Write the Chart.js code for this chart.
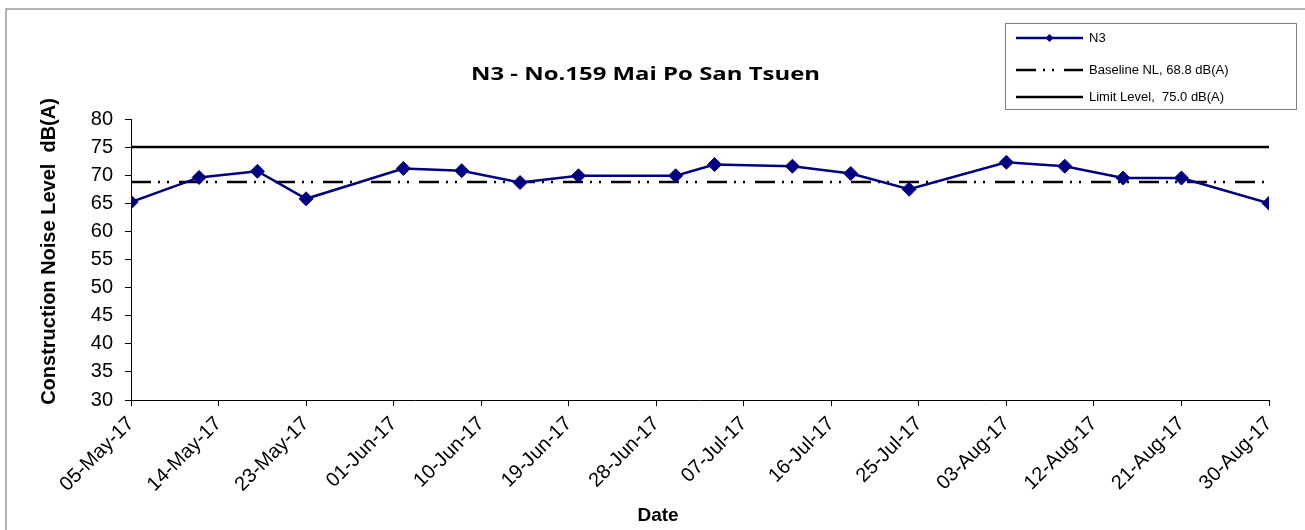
<!DOCTYPE html>
<html><head><meta charset="utf-8">
<script src="https://cdn.jsdelivr.net/npm/chart.js@4/dist/chart.umd.min.js"></script>
<style>html,body{margin:0;padding:0;background:#fff;overflow:hidden}#wrap{width:1305px;height:530px;position:relative}canvas{display:block}</style>
</head><body><div id="wrap"><canvas id="c" width="1305" height="530" style="width:1305px;height:530px"></canvas></div>
<script>
const chartTitle = 'N3 - No.159 Mai Po San Tsuen';
const yAxisTitle = 'Construction Noise Level  dB(A)';
const xAxisTitle = 'Date';
const seriesName = 'N3';
const baselineName = 'Baseline NL, 68.8 dB(A)';
const limitName = 'Limit Level,  75.0 dB(A)';
const measureDates = ['2017-05-05','2017-05-12','2017-05-18','2017-05-23','2017-06-02','2017-06-08','2017-06-14','2017-06-20','2017-06-30','2017-07-04','2017-07-12','2017-07-18','2017-07-24','2017-08-03','2017-08-09','2017-08-15','2017-08-21','2017-08-30'];
const n3Values = [65.2,69.6,70.7,65.8,71.2,70.8,68.7,69.9,69.9,71.9,71.6,70.3,67.5,72.3,71.6,69.5,69.5,65.0];
const baselineLevel = 68.8;
const limitLevel = 75.0;
const axisStartDate = '2017-05-05';
const axisEndDate = '2017-08-30';
const tickStepDays = 9;
const yMin = 30, yMax = 80, yStep = 5;
const monthNames = ['Jan','Feb','Mar','Apr','May','Jun','Jul','Aug','Sep','Oct','Nov','Dec'];

const DAY = 86400000;
const t0 = Date.parse(axisStartDate + 'T00:00:00Z');
const dayOf = s => Math.round((Date.parse(s + 'T00:00:00Z') - t0) / DAY);
const endDay = dayOf(axisEndDate);
const fmtDay = d => {
  const dt = new Date(t0 + d * DAY);
  const dd = String(dt.getUTCDate()).padStart(2, '0');
  const yy = String(dt.getUTCFullYear()).slice(2);
  return dd + '-' + monthNames[dt.getUTCMonth()] + '-' + yy;
};

const NAVY = '#000080';
const DASH = [20, 7, 2, 7, 2, 10];

const n3Data = measureDates.map((d, i) => ({x: dayOf(d), y: n3Values[i]}));
const baseData = [{x: 0, y: baselineLevel}, {x: endDay, y: baselineLevel}];
const limitData = [{x: 0, y: limitLevel}, {x: endDay, y: limitLevel}];

const deco = {
  id: 'deco',
  afterDraw(chart) {
    const ctx = chart.ctx;
    ctx.save();
    ctx.strokeStyle = '#9a9a9a';
    ctx.lineWidth = 1.5;
    ctx.beginPath();
    ctx.moveTo(6, 540); ctx.lineTo(6, 9); ctx.lineTo(1320, 9);
    ctx.stroke();

    ctx.fillStyle = '#000';
    ctx.font = 'bold 17px "Open Sans"';
    ctx.textBaseline = 'alphabetic';
    ctx.textAlign = 'left';
    const tw = ctx.measureText(chartTitle).width;
    const targetW = 349;
    ctx.save();
    ctx.translate(471, 80);
    ctx.scale(targetW / tw, 1);
    ctx.fillText(chartTitle, 0, 0);
    ctx.restore();

    ctx.save();
    ctx.translate(49, 251.5);
    ctx.rotate(-Math.PI / 2);
    ctx.font = 'bold 20px "Liberation Sans"';
    ctx.textAlign = 'center';
    ctx.textBaseline = 'middle';
    ctx.fillText(yAxisTitle, 0, 0);
    ctx.restore();

    ctx.font = 'bold 19px "Liberation Sans"';
    ctx.textAlign = 'center';
    ctx.textBaseline = 'alphabetic';
    ctx.fillText(xAxisTitle, 658, 521);

    ctx.strokeStyle = '#808080';
    ctx.lineWidth = 1;
    ctx.strokeRect(1005.5, 23.5, 291, 86);
    const rows = [
      {y: 38, label: seriesName, color: NAVY, dash: [], marker: true},
      {y: 70, label: baselineName, color: '#000', dash: DASH, marker: false},
      {y: 97, label: limitName, color: '#000', dash: [], marker: false}
    ];
    ctx.font = '13px "Liberation Sans"';
    ctx.textAlign = 'left';
    ctx.textBaseline = 'middle';
    rows.forEach(r => {
      ctx.save();
      ctx.strokeStyle = r.color;
      ctx.lineWidth = 2.5;
      ctx.setLineDash(r.dash);
      ctx.beginPath();
      ctx.moveTo(1016, r.y); ctx.lineTo(1083, r.y);
      ctx.stroke();
      ctx.restore();
      if (r.marker) {
        ctx.fillStyle = NAVY;
        ctx.beginPath();
        ctx.moveTo(1049.5, r.y - 4); ctx.lineTo(1053.5, r.y); ctx.lineTo(1049.5, r.y + 4); ctx.lineTo(1045.5, r.y);
        ctx.closePath(); ctx.fill();
      }
      ctx.fillStyle = '#000';
      ctx.fillText(r.label, 1089, r.y);
    });
    ctx.restore();
  }
};

new Chart(document.getElementById('c'), {
  type: 'line',
  data: {
    datasets: [
      {label: seriesName, data: n3Data, borderColor: NAVY, backgroundColor: NAVY, borderWidth: 2.5,
       pointStyle: 'rectRot', pointRadius: 7, pointBackgroundColor: NAVY, pointBorderColor: NAVY, pointBorderWidth: 1, tension: 0, order: 0},
      {label: baselineName, data: baseData, borderColor: '#000', borderWidth: 2.5, borderDash: DASH, borderCapStyle: 'butt',
       pointRadius: 0, tension: 0, order: 1},
      {label: limitName, data: limitData, borderColor: '#000', borderWidth: 2.5, pointRadius: 0, tension: 0, order: 2}
    ]
  },
  options: {
    responsive: false,
    maintainAspectRatio: false,
    animation: false,
    devicePixelRatio: 1,
    layout: {padding: {top: 119, right: 36, left: 0, bottom: 0}},
    plugins: {legend: {display: false}, title: {display: false}, tooltip: {enabled: false}},
    scales: {
      x: {
        type: 'linear', min: 0, max: endDay,
        afterFit: s => { s.height = 130; },
        afterBuildTicks: s => { s.ticks = []; for (let d = 0; d <= endDay; d += tickStepDays) s.ticks.push({value: d}); },
        ticks: {callback: v => fmtDay(v), maxRotation: 45, minRotation: 45, autoSkip: false, color: '#000',
                font: {family: '"Liberation Sans"', size: 20}, padding: 6},
        grid: {drawOnChartArea: false, drawTicks: true, tickLength: 6, color: '#000', lineWidth: 1},
        border: {display: true, color: '#000', width: 1}
      },
      y: {
        min: yMin, max: yMax,
        afterFit: s => { s.width = 131; },
        ticks: {stepSize: yStep, color: '#000', font: {family: '"Liberation Sans"', size: 20}, padding: 12},
        grid: {drawOnChartArea: false, drawTicks: true, tickLength: 6, color: '#000', lineWidth: 1},
        border: {display: true, color: '#000', width: 1}
      }
    }
  },
  plugins: [deco]
});
</script>
</body></html>
